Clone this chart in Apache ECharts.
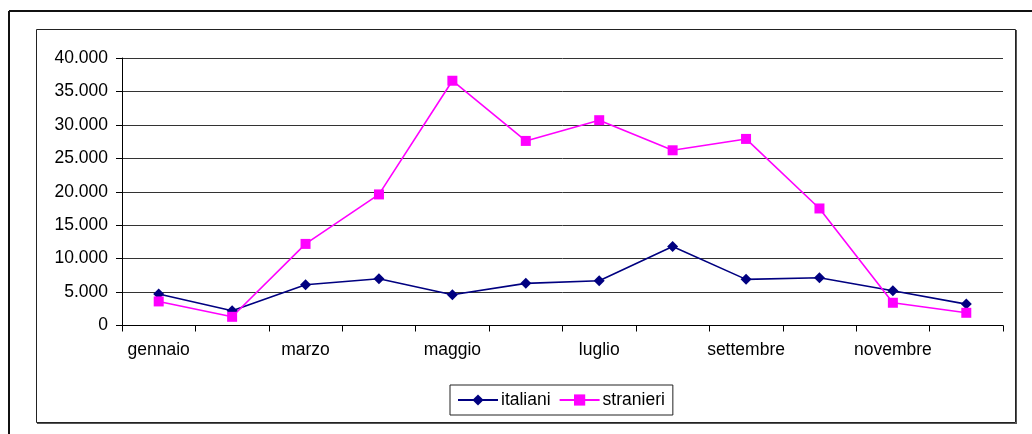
<!DOCTYPE html>
<html>
<head>
<meta charset="utf-8">
<script src="https://cdn.jsdelivr.net/npm/echarts@6/dist/echarts.min.js"></script>
<style>
  html, body { margin: 0; padding: 0; background: #fff; }
  #chart { width: 1032px; height: 434px; }
</style>
</head>
<body>
<div id="chart"></div>
<script>
// Monthly arrivals, Italian vs foreign visitors
const months = ['gennaio', 'febbraio', 'marzo', 'aprile', 'maggio', 'giugno',
                'luglio', 'agosto', 'settembre', 'ottobre', 'novembre', 'dicembre'];
const italiani = [4700, 2200, 6100, 7000, 4600, 6300, 6700, 11800, 6900, 7150, 5200, 3200];
const stranieri = [3600, 1300, 12200, 19600, 36600, 27600, 30700, 26200, 27900, 17500, 3400, 1900];
const yTicks = { min: 0, max: 40000, step: 5000 };

const FONT = 'Liberation Sans, Arial, sans-serif';
const fmt = v => v === 0 ? '0' : String(v).replace(/\B(?=(\d{3})+(?!\d))/g, '.');

const chart = echarts.init(document.getElementById('chart'), null, { renderer: 'canvas' });
chart.setOption({
  animation: false,
  backgroundColor: '#fff',
  textStyle: { fontFamily: FONT },
  grid: { left: 122, top: 58, width: 881, height: 267.5, containLabel: false },
  graphic: [
    { type: 'line', shape: { x1: 9, y1: 11, x2: 1032, y2: 11 }, style: { stroke: '#111', lineWidth: 2 } },
    { type: 'line', shape: { x1: 9, y1: 11, x2: 9, y2: 434 }, style: { stroke: '#111', lineWidth: 2 } },
    { type: 'rect', shape: { x: 36.5, y: 29.5, width: 979, height: 393 }, style: { fill: 'none', stroke: '#222', lineWidth: 1 } },
    { type: 'line', shape: { x1: 1016.5, y1: 30, x2: 1016.5, y2: 424 }, style: { stroke: '#555', lineWidth: 1 } },
    { type: 'line', shape: { x1: 37, y1: 423.5, x2: 1017, y2: 423.5 }, style: { stroke: '#555', lineWidth: 1 } }
  ],
  legend: {
    left: 450, top: 385,
    padding: [6, 8, 6, 7],
    itemGap: 8,
    itemWidth: 40, itemHeight: 14,
    borderColor: '#222', borderWidth: 1,
    textStyle: { fontFamily: FONT, fontSize: 17.5, color: '#000', padding: [0, 0, 0, -2] },
    data: ['italiani', 'stranieri']
  },
  xAxis: {
    type: 'category',
    data: months,
    boundaryGap: true,
    axisLine: { lineStyle: { color: '#000', width: 1 } },
    axisTick: { show: true, interval: 0, length: 6, lineStyle: { color: '#000' } },
    axisLabel: { interval: 1, margin: 16, fontSize: 17.5, fontFamily: FONT, color: '#000' },
    splitLine: { show: false }
  },
  yAxis: {
    type: 'value',
    min: yTicks.min, max: yTicks.max, interval: yTicks.step,
    axisLine: { show: true, lineStyle: { color: '#000', width: 1 } },
    axisTick: { show: true, length: 6, lineStyle: { color: '#000' } },
    axisLabel: { margin: 14, fontSize: 17.5, fontFamily: FONT, color: '#000', formatter: fmt },
    splitLine: { show: true, lineStyle: { color: '#333', width: 1 } }
  },
  series: [
    {
      name: 'italiani', type: 'line', data: italiani,
      symbol: 'diamond', symbolSize: 11, showAllSymbol: true,
      itemStyle: { color: '#000080' },
      lineStyle: { color: '#000080', width: 1.6 }
    },
    {
      name: 'stranieri', type: 'line', data: stranieri,
      symbol: 'rect', symbolSize: 10, showAllSymbol: true,
      itemStyle: { color: '#ff00ff' },
      lineStyle: { color: '#ff00ff', width: 1.6 }
    }
  ]
});
</script>
</body>
</html>
